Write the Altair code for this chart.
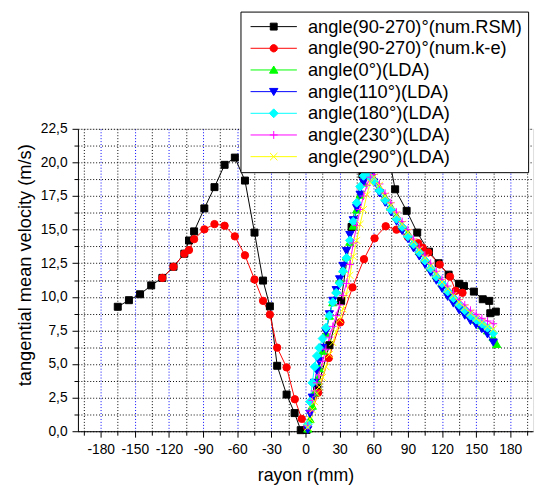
import math
import altair as alt
import pandas as pd

# ---------------- data ----------------
names = ["angle(90-270)°(num.RSM)", "angle(90-270)°(num.k-e)", "angle(0°)(LDA)",
         "angle(110°)(LDA)", "angle(180°)(LDA)", "angle(230°)(LDA)", "angle(290°)(LDA)"]
colors = ["#000000", "#FF0000", "#00FF00", "#0000FF", "#00FFFF", "#FF00FF", "#FFFF00"]

rsm_x = [-165, -155.2, -145.4, -135.6, -125.8, -116, -106.5, -102.4, -97.9, -88.9, -80, -71.1,
         -62.1, -53.2, -44.8, -37.3, -31.3, -24.9, -16.6, -9.6, -4.2, 1, 10.5, 21, 31.3, 40.5,
         50, 59, 69, 78.8, 88.9, 98.2, 108.5, 117, 125.8, 135, 139.3, 148, 155.8, 161.5, 162.4, 167.3]
rsm_y = [9.26, 9.75, 10.19, 10.85, 11.41, 12.24, 13.21, 14.19, 14.87, 16.58, 18.16, 19.82,
         20.36, 18.65, 14.78, 11.21, 9.29, 4.87, 2.73, 1.35, 0.08, 0.1, 3.2, 6.4, 9.7, 15.2,
         19.1, 21.3, 22.3, 18.0, 16.4, 14.78, 13.36, 12.5, 11.65, 10.97, 10.8, 10.39, 9.82, 9.7, 8.78, 8.9]

ke_x = [-125.8, -116, -106.5, -102.4, -97.9, -88.9, -80, -71.1, -62.1, -53.2, -44.8, -37.3,
        -31.3, -24.9, -16.6, -9.4, -3.3, 1.5, 11.1, 20.5, 30.7, 41.3, 51.4, 60.7, 70.5, 80, 90,
        99, 103, 108, 118, 127, 132, 138]
ke_y = [11.41, 12.24, 13.21, 13.48, 14.29, 15.02, 15.41, 15.29, 14.5, 13.09, 11.29, 9.7,
        8.68, 6.22, 4.75, 2.38, 0.92, 0.3, 2.87, 5.45, 8.1, 10.7, 12.8, 14.35, 15.25, 15.0, 14.45,
        14.0, 13.65, 13.3, 12.4, 11.5, 10.45, 10.3]

lda_x = [2, 4, 6, 8, 10, 12, 15, 18, 21, 24, 27, 30, 33, 36, 39, 42, 45, 48, 51, 54, 57,
         60, 65, 70, 75, 80, 85, 90, 95, 100, 105, 110, 115, 120, 125, 130, 135, 140, 145,
         150, 155, 160, 165]
lda0_x = [2, 4, 6, 8, 10, 12, 15, 18, 21, 24, 27, 30, 33, 36, 39, 42, 45, 48, 51, 54, 57,
          60, 65, 70, 75, 80, 85, 90, 95, 100, 105, 110, 115, 120, 125, 130, 135, 140, 145,
          150, 155, 160, 165, 168]
lda0_y = [0.2, 0.9, 1.9, 2.9, 3.8, 4.7, 6.0, 7.3, 8.6, 9.6, 10.5, 11.3, 12.1, 13.0, 14.1, 15.3,
          16.5, 17.6, 18.5, 19.0, 19.1, 18.8, 18.1, 17.4, 16.7, 16.0, 15.3, 14.7, 14.0, 13.4,
          12.8, 12.2, 11.6, 11.0, 10.5, 10.0, 9.5, 9.1, 8.7, 8.3, 7.9, 7.5, 7.0, 6.5]
lda110_y = [0.1, 1.3, 2.5, 3.6, 4.5, 5.2, 6.2, 7.4, 8.7, 9.7, 10.5, 11.3, 12.3, 13.4, 14.6, 15.7,
            16.6, 17.6, 18.5, 19.0, 18.9, 18.5, 17.7, 17.0, 16.3, 15.6, 14.9, 14.3, 13.6, 13.0,
            12.4, 11.8, 11.2, 10.6, 10.0, 9.5, 9.0, 8.6, 8.2, 7.9, 7.6, 7.2, 6.6]
lda180_y = [0.5, 2.2, 3.6, 4.8, 5.6, 6.2, 6.9, 7.7, 8.6, 9.6, 10.3, 11.0, 11.9, 12.9, 14.2, 15.6,
            17.0, 18.2, 19.0, 19.2, 18.9, 18.6, 17.9, 17.2, 16.5, 15.8, 15.2, 14.5, 13.9, 13.3,
            12.7, 12.1, 11.5, 11.0, 10.4, 9.9, 9.4, 9.0, 8.6, 8.3, 8.0, 7.7, 7.3]
lda230_y = [0.4, 1.5, 2.3, 3.0, 3.6, 4.2, 5.2, 6.1, 7.0, 7.8, 8.6, 9.4, 10.1, 11.0, 12.4, 14.0,
            15.3, 16.5, 17.5, 18.3, 18.9, 19.1, 18.4, 17.7, 17.0, 16.3, 15.6, 15.0, 14.3, 13.7,
            13.1, 12.5, 11.9, 11.3, 10.8, 10.3, 9.8, 9.4, 9.0, 8.7, 8.4, 8.2, 8.0]
lda290_y = [0.3, 0.9, 1.6, 2.2, 2.8, 3.3, 4.0, 4.8, 5.7, 6.6, 7.4, 8.3, 9.1, 10.2, 11.6, 13.0,
            14.2, 15.4, 16.5, 17.6, 18.5, 18.9, 18.3, 17.5, 16.8, 16.1, 15.4, 14.8, 14.1, 13.5,
            12.9, 12.3, 11.7, 11.1, 10.6, 10.1, 9.6, 9.2, 8.8, 8.4, 8.1, 7.8, 7.6]

series_x = [rsm_x, ke_x, lda0_x, lda_x, lda_x, lda_x, lda_x]
series_y = [rsm_y, ke_y, lda0_y, lda110_y, lda180_y, lda230_y, lda290_y]

x_ticks = list(range(-195, 196, 15))
y_ticks = [i * 1.25 for i in range(19)]

# ---------------- styling ----------------
marker_shapes = ["square", "circle", "triangle-up", "triangle-down", "diamond",
                 "M-1,0H1M0,-1V1", "M-1,-1L1,1M-1,1L1,-1"]
marker_sizes = [50, 56, 70, 70, 80, 64, 50]


def poly(cx, r, n=12):
    pts = [(cx + r * math.cos(2 * math.pi * k / n), r * math.sin(2 * math.pi * k / n)) for k in range(n)]
    return "M" + "L".join(f"{px:.3f},{py:.3f}" for px, py in pts) + "Z"


c = 3.7
stub = "M-1,0H8.4"
legend_paths = [
    stub + f"M{c-0.7},-0.7H{c+0.7}V0.7H{c-0.7}Z",
    stub + poly(c, 0.75),
    stub + f"M{c},-0.8L{c+0.85},0.65L{c-0.85},0.65Z",
    stub + f"M{c},0.8L{c+0.85},-0.65L{c-0.85},-0.65Z",
    stub + f"M{c},-0.9L{c+0.9},0L{c},0.9L{c-0.9},0Z",
    stub + f"M{c-0.8},0H{c+0.8}M{c},-0.8V0.8",
    stub + f"M{c-0.75},-0.75L{c+0.75},0.75M{c-0.75},0.75L{c+0.75},-0.75",
]

rows = []
for s, (xs, ys) in enumerate(zip(series_x, series_y)):
    for i, (xv, yv) in enumerate(zip(xs, ys)):
        rows.append({"series": names[s], "r": xv, "v": yv, "idx": i, "sz": marker_sizes[s]})
df = pd.DataFrame(rows)

FONT = "Liberation Sans"


def cscale():
    return alt.Scale(domain=names, range=colors)


def x_enc():
    return alt.X("r:Q", scale=alt.Scale(domain=[-200, 200], nice=False, zero=False),
                 axis=alt.Axis(values=x_ticks, title="rayon r(mm)",
                               labelExpr="datum.value % 30 === 0 ? '' + datum.value : ''",
                               grid=True, gridDash=[1, 2], gridWidth=1, gridOpacity=1,
                               gridColor={"condition": {"test": "datum.value % 30 === 0", "value": "#0000FF"}, "value": "#000000"},
                               tickSize={"condition": {"test": "datum.value % 30 === 0", "value": 6}, "value": 4},
                               tickColor="black", domainColor="black", labelColor="black", titleColor="black",
                               labelFont=FONT, labelFontSize=14, titleFont=FONT, titleFontSize=18,
                               titleFontWeight="normal", labelPadding=6, titlePadding=10,
                               labelFlush=False, labelOverlap=False))


def y_enc():
    return alt.Y("v:Q", scale=alt.Scale(domain=[0, 22.5], nice=False, zero=False),
                 axis=alt.Axis(values=y_ticks, title="tangential mean velocity (m/s)",
                               labelExpr="datum.value % 2.5 === 0 ? replace(format(datum.value, '.1f'), '.', ',') : ''",
                               grid=True, gridDash=[1, 2], gridWidth=1, gridColor="#000000", gridOpacity=1,
                               tickSize={"condition": {"test": "datum.value % 2.5 === 0", "value": 6}, "value": 4},
                               tickColor="black", domainColor="black", labelColor="black", titleColor="black",
                               labelFont=FONT, labelFontSize=14, titleFont=FONT, titleFontSize=18.5,
                               titleFontWeight="normal", labelPadding=5, titlePadding=6, titleY=138,
                               labelFlush=False, labelOverlap=False))


lines = alt.Chart(df).mark_line(strokeWidth=1).encode(
    x=x_enc(), y=y_enc(),
    color=alt.Color("series:N", scale=cscale(), legend=None),
    order="idx:Q",
)

points = alt.Chart(df).mark_point(filled=True, strokeWidth=1, opacity=1).encode(
    x=x_enc(), y=y_enc(),
    fill=alt.Fill("series:N", scale=cscale(), legend=None),
    stroke=alt.Stroke("series:N", scale=cscale(), legend=None),
    shape=alt.Shape("series:N", scale=alt.Scale(domain=names, range=marker_shapes), legend=None),
    size=alt.Size("sz:Q", scale=None),
)


def make_legend():
    return alt.Legend(
        orient="none", legendX=165, legendY=-119, title=None,
        fillColor="white", strokeColor="black", padding=6,
        labelFont=FONT, labelFontSize=18.5, labelColor="black", labelLimit=400,
        labelExpr="datum.label + '   '",
        symbolSize=100, labelOffset=44, rowPadding=3, symbolStrokeWidth=1,
        symbolOpacity=1,
    )


legend_layer = alt.Chart(df).transform_filter("false").mark_point(filled=True, strokeWidth=1).encode(
    x=x_enc(), y=y_enc(),
    fill=alt.Fill("series:N", scale=cscale(), legend=make_legend()),
    stroke=alt.Stroke("series:N", scale=cscale(), legend=make_legend()),
    shape=alt.Shape("series:N", scale=alt.Scale(domain=names, range=legend_paths), legend=make_legend()),
)

chart = alt.layer(lines, points, legend_layer).resolve_scale(
    fill="independent", stroke="independent", shape="independent"
).properties(
    width=462, height=307,
    autosize=alt.AutoSizeParams(type="none"),
    padding={"left": 71, "top": 119, "right": 3, "bottom": 56},
).configure_view(stroke="black", strokeWidth=1).configure(background="white")

chart.save("out.html", embed_options={"renderer": "svg", "actions": False})
